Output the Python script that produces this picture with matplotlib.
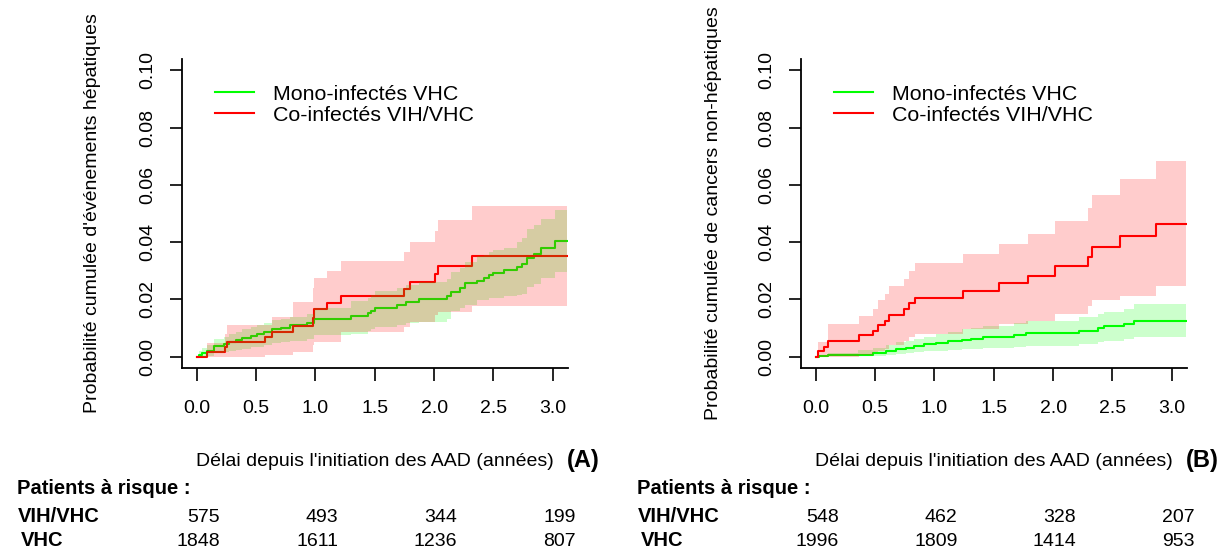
import matplotlib
matplotlib.use('Agg')
import matplotlib.pyplot as plt
import matplotlib.transforms as mtrans
import numpy as np

plt.rcParams['font.family'] = ['Liberation Sans', 'DejaVu Sans']

# ---------------- data ----------------
T_END = 3.12
XTICKS = [0.0, 0.5, 1.0, 1.5, 2.0, 2.5, 3.0]
YTICKS = [0.00, 0.02, 0.04, 0.06, 0.08, 0.10]
LABEL_MONO = "Mono-infectés VHC"
LABEL_CO = "Co-infectés VIH/VHC"
XLABEL = "Délai depuis l'initiation des AAD (années)"
YLABEL_A = "Probabilité cumulée d'événements hépatiques"
YLABEL_B = "Probabilité cumulée de cancers non-hépatiques"
RISK_TIMES = [0, 1, 2, 3]

# Panel A - co-infected (red)
a_co_t = [0, 0.084, 0.24, 0.258, 0.58, 0.637, 0.81, 0.982, 0.993, 1.10, 1.22, 1.745, 1.80, 2.006, 2.03, 2.315]
a_co_est = [0, 0.0015, 0.0035, 0.005, 0.007, 0.0087, 0.0108, 0.0134, 0.0166, 0.0188, 0.021, 0.0235, 0.026, 0.029, 0.0316, 0.0351]
a_co_hi = [0, 0.0047, 0.008, 0.011, 0.011, 0.014, 0.019, 0.024, 0.0273, 0.030, 0.0334, 0.0366, 0.040, 0.044, 0.0479, 0.0526]
a_co_lo = [0, 0, 0, 0, 0.0006, 0.0006, 0.0017, 0.004, 0.0052, 0.0052, 0.0087, 0.0105, 0.0122, 0.0145, 0.0157, 0.0177]

# Panel A - mono-infected (green)
a_mono_t = [0, 0.02, 0.05, 0.084, 0.146, 0.23, 0.272, 0.33, 0.384, 0.455, 0.51, 0.567, 0.637, 0.707, 0.79, 0.93,
            0.99, 1.30, 1.44, 1.47, 1.50, 1.69, 1.76, 1.87, 2.11, 2.14, 2.22, 2.26, 2.36, 2.42, 2.46, 2.50,
            2.59, 2.70, 2.74, 2.78, 2.84, 2.90, 3.02]
a_mono_est = [0, 0.0006, 0.0012, 0.002, 0.0038, 0.0043, 0.0052, 0.0058, 0.0066, 0.0072, 0.0078, 0.0087, 0.0095, 0.0101, 0.011, 0.0116,
              0.0133, 0.0142, 0.0151, 0.016, 0.0169, 0.0181, 0.019, 0.020, 0.0212, 0.0227, 0.0238, 0.0256, 0.0265, 0.0273, 0.0285, 0.0293,
              0.0302, 0.0312, 0.0323, 0.0343, 0.0357, 0.0378, 0.0403]
a_mono_hi = [0, 0.002, 0.003, 0.004, 0.0062, 0.007, 0.0078, 0.0085, 0.0095, 0.0103, 0.011, 0.0118, 0.0127, 0.0133, 0.014, 0.0148,
             0.017, 0.0195, 0.0205, 0.0215, 0.023, 0.024, 0.025, 0.026, 0.0272, 0.0297, 0.031, 0.033, 0.035, 0.0355, 0.0365, 0.0372,
             0.038, 0.040, 0.0415, 0.0445, 0.046, 0.048, 0.0512]
a_mono_lo = [0, 0, 0, 0.0003, 0.0012, 0.0015, 0.002, 0.0023, 0.0028, 0.0032, 0.0035, 0.0042, 0.0047, 0.005, 0.0055, 0.006,
             0.0075, 0.0078, 0.009, 0.0095, 0.0105, 0.0112, 0.0116, 0.012, 0.013, 0.016, 0.017, 0.018, 0.0198, 0.0198, 0.0203, 0.0205,
             0.021, 0.0215, 0.022, 0.0244, 0.0255, 0.0273, 0.0297]

# Panel B - co-infected (red)
b_co_t = [0, 0.017, 0.073, 0.101, 0.362, 0.48, 0.53, 0.587, 0.62, 0.747, 0.789, 0.836, 1.243, 1.546, 1.79, 2.018, 2.29, 2.326, 2.565, 2.87]
b_co_est = [0, 0.0018, 0.0033, 0.0054, 0.0074, 0.0091, 0.011, 0.0126, 0.0146, 0.0167, 0.0187, 0.0205, 0.0228, 0.0257, 0.0283, 0.0315, 0.0347, 0.0382, 0.0421, 0.0463]
b_co_hi = [0, 0.0051, 0.0051, 0.0114, 0.0143, 0.0167, 0.0196, 0.0219, 0.0246, 0.0271, 0.0298, 0.0326, 0.0359, 0.0394, 0.043, 0.0475, 0.052, 0.0566, 0.062, 0.0682]
b_co_lo = [0, 0, 0, 0, 0.0004, 0.0015, 0.002, 0.0027, 0.004, 0.0055, 0.0068, 0.008, 0.0097, 0.0115, 0.0126, 0.0149, 0.0175, 0.0196, 0.0213, 0.0248]

# Panel B - mono-infected (green)
b_mono_t = [0, 0.031, 0.101, 0.354, 0.48, 0.59, 0.676, 0.76, 0.83, 0.915, 1.013, 1.111, 1.237, 1.308, 1.406, 1.672, 1.77, 2.22, 2.374, 2.43, 2.6, 2.68]
b_mono_est = [0, 0.0002, 0.0004, 0.0007, 0.0012, 0.0019, 0.0026, 0.0031, 0.0037, 0.0043, 0.0048, 0.0053, 0.0059, 0.0063, 0.007, 0.0076, 0.0083, 0.0089, 0.010, 0.0106, 0.0115, 0.0126]
b_mono_hi = [0, 0.0007, 0.0012, 0.0022, 0.003, 0.004, 0.005, 0.0056, 0.0063, 0.007, 0.0078, 0.0085, 0.0095, 0.0099, 0.0107, 0.0117, 0.0125, 0.0138, 0.015, 0.0156, 0.0167, 0.0183]
b_mono_lo = [0, 0, 0.0001, 0.0002, 0.0003, 0.0006, 0.0009, 0.0012, 0.0015, 0.0018, 0.0021, 0.0024, 0.0026, 0.0028, 0.003, 0.0034, 0.0038, 0.0043, 0.005, 0.0054, 0.006, 0.007]

# Numbers at risk
a_risk_co = [575, 493, 344, 199]
a_risk_mono = [1848, 1611, 1236, 807]
b_risk_co = [548, 462, 328, 207]
b_risk_mono = [1996, 1809, 1414, 953]

# ---------------- figure ----------------
W, H = 1229, 551
fig = plt.figure(figsize=(W / 100, H / 100), dpi=100)

RED = '#FF0000'
GREEN = '#00FF00'


def px_rect(l, r, t, b):
    return [l / W, 1 - b / H, (r - l) / W, (b - t) / H]


def ext(t, v):
    return np.r_[np.asarray(t, float), T_END], np.r_[np.asarray(v, float), v[-1]]


def panel(ax, mono, co, ylabel, ylab_x, letter, risk_co, risk_mono, text_left):
    lines = []
    for (t, est, lo, hi), col in ((mono, GREEN), (co, RED)):
        x, y = ext(t, est)
        ln, = ax.step(x, y, where='post', color=col, lw=1.5, zorder=2)
        lines.append(ln)
    for (t, est, lo, hi), col, z in ((mono, GREEN, 3), (co, RED, 4)):
        x, yl = ext(t, lo)
        _, yh = ext(t, hi)
        ax.fill_between(x, yl, yh, step='post', color=col, alpha=0.2, lw=0, zorder=z)

    ax.set_xlim(-0.125, 3.13)
    ax.set_ylim(-0.004, 0.104)
    for s in ('top', 'right'):
        ax.spines[s].set_visible(False)
    for s in ('left', 'bottom'):
        ax.spines[s].set_linewidth(1.3)
    ax.set_xticks(XTICKS)
    ax.set_xticklabels([f"{v:.1f}" for v in XTICKS])
    ax.set_yticks(YTICKS)
    ax.set_yticklabels([f"{v:.2f}" for v in YTICKS], rotation=90, va='center')
    ax.tick_params(axis='both', direction='out', length=9, width=1.2, labelsize=14)
    ax.tick_params(axis='x', pad=14)
    ax.tick_params(axis='y', pad=9)

    ax.legend(lines, [LABEL_MONO, LABEL_CO], loc='upper left',
              bbox_to_anchor=(0.0851, 0.916), frameon=False, fontsize=15.4,
              handlelength=1.84, handletextpad=0.89, labelspacing=0.08,
              borderpad=0, borderaxespad=0)

    bb = ax.get_position()
    cx = (bb.x0 + bb.x1) / 2
    fig.text(cx, 1 - 462 / H, XLABEL, ha='center', va='center', fontsize=14)
    fig.text(bb.x1 - 1 / W, 1 - 461 / H, letter, ha='left', va='center', fontsize=17, fontweight='bold')
    fig.text(ylab_x / W, (bb.y0 + bb.y1) / 2, ylabel, rotation=90, ha='center', va='center', fontsize=14)

    fig.text(text_left / W, 1 - 489 / H, "Patients à risque :", ha='left', va='center', fontsize=14.5, fontweight='bold')
    fig.text((text_left + 1) / W, 1 - 517 / H, "VIH/VHC", ha='left', va='center', fontsize=14.5, fontweight='bold')
    fig.text((text_left + 3.5) / W, 1 - 541 / H, "VHC", ha='left', va='center', fontsize=14.5, fontweight='bold')
    trans = mtrans.blended_transform_factory(ax.transData, fig.transFigure)
    for xt, n1, n2 in zip(RISK_TIMES, risk_co, risk_mono):
        ax.text(xt + 0.195, 1 - 517 / H, str(n1), ha='right', va='center', fontsize=14, transform=trans, clip_on=False)
        ax.text(xt + 0.195, 1 - 541 / H, str(n2), ha='right', va='center', fontsize=14, transform=trans, clip_on=False)


axA = fig.add_axes(px_rect(181.7, 568.3, 59, 368))
axB = fig.add_axes(px_rect(800.7, 1187.3, 59, 368))

panel(axA, (a_mono_t, a_mono_est, a_mono_lo, a_mono_hi), (a_co_t, a_co_est, a_co_lo, a_co_hi),
      YLABEL_A, 93, "(A)", a_risk_co, a_risk_mono, 17)
panel(axB, (b_mono_t, b_mono_est, b_mono_lo, b_mono_hi), (b_co_t, b_co_est, b_co_lo, b_co_hi),
      YLABEL_B, 713, "(B)", b_risk_co, b_risk_mono, 637)

fig.savefig('out.png', dpi=100)
